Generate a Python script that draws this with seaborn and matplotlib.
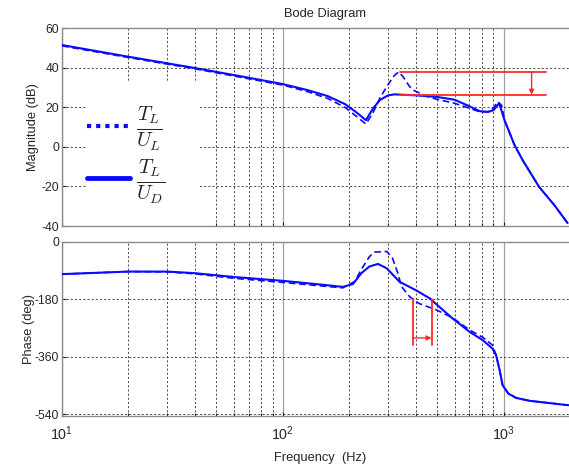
import numpy as np
import pandas as pd
import matplotlib
matplotlib.use("Agg")
import matplotlib.pyplot as plt
import seaborn as sns
from matplotlib.lines import Line2D
from matplotlib.patches import Rectangle
from matplotlib.ticker import LogLocator, FixedLocator

# ---------------- data ----------------
# Magnitude, T_L/U_D (solid)
freq_mag_ud = [10, 20, 40, 70, 100, 130, 160, 192, 215, 238, 257, 275, 300, 320, 350,
               400, 500, 600, 700, 780, 850, 900, 955, 1010, 1120, 1220, 1450, 1700, 1950]
mag_ud = [51.4, 45.5, 39.8, 34.9, 31.7, 28.6, 25.6, 21.5, 17.5, 13.5, 19.5, 23.6, 26.0, 26.5, 26.3,
          26.0, 25.2, 23.8, 20.5, 18.0, 17.6, 18.5, 22.0, 13.5, 1.0, -6.7, -20.3, -29.5, -38.5]
# Magnitude, T_L/U_L (dashed)
freq_mag_ul = [10, 20, 40, 70, 100, 130, 160, 192, 215, 238, 257, 275, 300, 320, 335, 350,
               375, 395, 450, 500, 600, 700, 780, 850, 900, 940, 980, 1010, 1120, 1220, 1450, 1700, 1950]
mag_ul = [51.0, 45.1, 39.4, 34.4, 31.2, 27.8, 24.4, 19.8, 15.5, 11.5, 17.5, 24.5, 31.5, 36.0, 37.8, 35.5,
          30.5, 28.3, 25.5, 24.0, 22.0, 19.5, 17.7, 17.8, 19.5, 22.8, 21.0, 13.5, 1.0, -6.7, -20.3, -29.5, -38.5]

# Phase, T_L/U_D (solid)
freq_ph_ud = [10, 20, 30, 40, 60, 100, 150, 187, 208, 227, 247, 270, 296, 338, 400, 463,
              588, 702, 805, 890, 925, 960, 990, 1050, 1140, 1310, 1970]
ph_ud = [-101, -93, -93, -98, -110, -122, -134, -141, -132, -98, -77, -69, -83, -125, -151, -177,
         -240, -282, -308, -334, -355, -402, -449, -475, -489, -498, -512]
# Phase, T_L/U_L (dashed)
freq_ph_ul = [10, 20, 30, 40, 60, 100, 150, 187, 212, 227, 247, 260, 296, 314, 332, 345, 376, 414,
              496, 588, 702, 805, 890, 925, 960, 990, 1050, 1140, 1310, 1970]
ph_ul = [-101, -93, -94, -100, -114, -127, -138, -144, -124, -86, -46, -32, -30, -51, -98, -140, -172, -193,
         -213, -238, -276, -299, -323, -355, -402, -449, -475, -489, -498, -512]

mag_ticks = [60, 40, 20, 0, -20, -40]
phase_ticks = [0, -180, -360, -540]
series_labels = [r"$\frac{T_L}{U_L}$", r"$\frac{T_L}{U_D}$"]

# annotation levels (peak magnitudes, -180 deg crossing frequencies)
peak_levels = [37.8, 26.3]          # dB
peak_span = [338, 1550]             # Hz
peak_arrow_freq = 1340              # Hz
cross_freqs = [387, 472]            # Hz
cross_phase = [-180, -323, -301]    # deg: top, bottom, arrow level

# ---------------- style ----------------
sns.set_theme(style="white")
plt.rcParams["font.family"] = ["Liberation Sans", "DejaVu Sans"]
plt.rcParams["mathtext.fontset"] = "cm"
plt.rcParams["axes.unicode_minus"] = False

BLUE = "#0a0aff"
RED = "#ff2a2a"
GRAY = "#8c8c8c"

fig = plt.figure(figsize=(5.69, 4.67), dpi=100)
left, width = 62 / 569, 508 / 569
ax_m = fig.add_axes([left, 0.516, width, 0.424])
ax_p = fig.add_axes([left, 0.109, width, 0.373])

df_m_ud = pd.DataFrame({"f": freq_mag_ud, "v": mag_ud})
df_m_ul = pd.DataFrame({"f": freq_mag_ul, "v": mag_ul})
df_p_ud = pd.DataFrame({"f": freq_ph_ud, "v": ph_ud})
df_p_ul = pd.DataFrame({"f": freq_ph_ul, "v": ph_ul})

for ax, d_ul, d_ud in [(ax_m, df_m_ul, df_m_ud), (ax_p, df_p_ul, df_p_ud)]:
    sns.lineplot(data=d_ul, x="f", y="v", ax=ax, color=BLUE, lw=1.2, sort=False,
                 estimator=None, zorder=3)
    ax.lines[-1].set_dashes([4, 2.2])
    sns.lineplot(data=d_ud, x="f", y="v", ax=ax, color=BLUE, lw=1.5, sort=False,
                 estimator=None, zorder=3)
    ax.set_xscale("log")
    ax.set_xlim(10, 2000)
    ax.set_axisbelow(True)
    ax.xaxis.set_major_locator(LogLocator(base=10, numticks=10))
    ax.xaxis.set_minor_locator(LogLocator(base=10, subs=np.arange(2, 10), numticks=20))
    ax.grid(True, which="major", axis="x", color="#a0a0a0", lw=0.9, ls="-")
    ax.grid(True, which="minor", axis="x", color="#303030", lw=0.6, ls=(0, (2.5, 2.5)))
    ax.grid(True, which="major", axis="y", color="#303030", lw=0.6, ls=(0, (2.5, 2.5)))
    for s in ax.spines.values():
        s.set_color(GRAY)
        s.set_linewidth(1.0)
    ax.tick_params(axis="both", which="both", direction="in", length=3, width=0.8,
                   color="#202020", labelsize=8.7, pad=2, left=True, bottom=True)
    ax.tick_params(axis="x", which="minor", length=2)
    ax.set_xlabel("")
    ax.set_ylabel("")

ax_m.set_ylim(-40, 60)
ax_m.yaxis.set_major_locator(FixedLocator(mag_ticks))
ax_m.tick_params(axis="x", labelbottom=False)
ax_m.set_ylabel("Magnitude (dB)", fontsize=9.3, labelpad=2)

ax_p.set_ylim(-546, 0)
ax_p.yaxis.set_major_locator(FixedLocator(phase_ticks))
ax_p.set_ylabel("Phase (deg)", fontsize=9.3, labelpad=0)
ax_p.set_xlabel("Frequency  (Hz)", fontsize=9.3, va="center")
ax_p.xaxis.set_label_coords(0.508, -0.241)
ax_p.tick_params(axis="x", labelsize=10.3, pad=6)

fig.text(325 / 569, 1 - 14 / 467, "Bode Diagram", ha="center", va="center", fontsize=9.3)

# legend block
ax_m.add_patch(Rectangle((0.049, 0.0), 0.22, 0.727, transform=ax_m.transAxes,
                         facecolor="white", edgecolor="none", zorder=1))
handles = [Line2D([], [], color=BLUE, lw=3.0, ls=(0, (1, 1.2))),
           Line2D([], [], color=BLUE, lw=3.5, ls="-")]
leg = ax_m.legend(handles, series_labels, loc="upper left", bbox_to_anchor=(0.05, 0.61),
                  frameon=False, fontsize=21, handlelength=1.45, handletextpad=0.2,
                  labelspacing=0.15, borderaxespad=0, borderpad=0)

# red annotations
for lvl in peak_levels:
    ax_m.plot(peak_span, [lvl, lvl], color=RED, lw=1.3, zorder=4)
ax_m.annotate("", xy=(peak_arrow_freq, peak_levels[1]), xytext=(peak_arrow_freq, peak_levels[0]),
              arrowprops=dict(arrowstyle="-|>", color=RED, lw=1.0, mutation_scale=7,
                              shrinkA=0, shrinkB=0), zorder=4)
for fq in cross_freqs:
    ax_p.plot([fq, fq], cross_phase[:2], color=RED, lw=1.3, zorder=4)
ax_p.annotate("", xy=(cross_freqs[1], cross_phase[2]), xytext=(cross_freqs[0], cross_phase[2]),
              arrowprops=dict(arrowstyle="-|>", color=RED, lw=1.0, mutation_scale=7,
                              shrinkA=0, shrinkB=0), zorder=4)

fig.savefig("out.png", dpi=100)
